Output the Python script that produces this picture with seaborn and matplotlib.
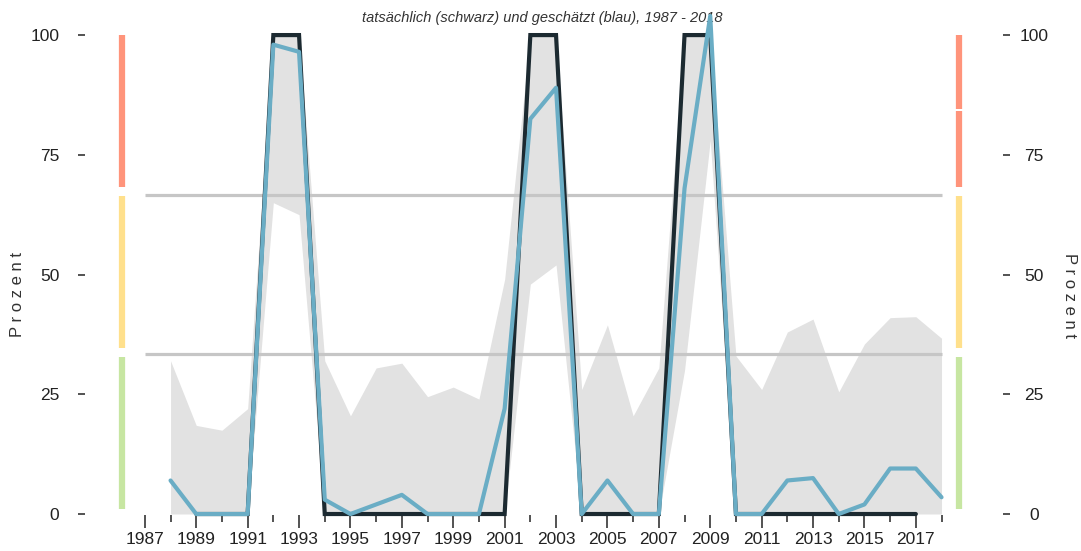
import matplotlib
matplotlib.use("Agg")
import matplotlib.pyplot as plt
import seaborn as sns
import pandas as pd
from matplotlib.ticker import FixedLocator

# ---------------- data ----------------
years = list(range(1988, 2019))
estimated = [7, 0, 0, 0, 98, 96.5, 3, 0, 2, 4, 0, 0, 0, 22, 82.5, 89,
             0, 7, 0, 0, 68, 104, 0, 0, 7, 7.5, 0, 2, 9.5, 9.5, 3.5]
band_low = [0, 0, 0, 0, 65, 62.5, 0, 0, 0, 0, 0, 0, 0, 0, 48, 52,
            0, 0, 0, 0, 30, 78, 0, 0, 0, 0, 0, 0, 0, 0, 0]
band_high = [32, 18.5, 17.5, 22, 100, 100, 32, 20.5, 30.5, 31.5, 24.5, 26.5, 24, 49, 100, 100,
             26, 39.5, 20.5, 30.5, 100, 100, 33, 26, 38, 40.7, 25.5, 35.5, 41, 41.2, 36.7]
actual_years = list(range(1989, 2018))
actual = [0, 0, 0, 100, 100, 0, 0, 0, 0, 0, 0, 0, 0, 100, 100,
          0, 0, 0, 0, 100, 100, 0, 0, 0, 0, 0, 0, 0, 0]
thresholds = [100 / 3, 200 / 3]
yticks = [0, 25, 50, 75, 100]
major_years = list(range(1987, 2018, 2))
minor_years = list(range(1988, 2019, 2))
zones_left = [(1, 32.8, "#c7e6a2"), (34.7, 66.4, "#ffe08c"), (68.3, 100, "#ff947b")]
zones_right = [(1, 32.8, "#c7e6a2"), (34.7, 66.4, "#ffe08c"), (68.3, 84.1, "#ff947b"), (84.5, 100, "#ff947b")]
title = "tatsächlich (schwarz) und geschätzt (blau), 1987 - 2018"

df_est = pd.DataFrame({"Jahr": years, "Prozent": estimated})
df_act = pd.DataFrame({"Jahr": actual_years, "Prozent": actual})

# ---------------- style ----------------
sns.set_theme(style="white")
narrow = ["Liberation Sans Narrow", "Liberation Sans", "DejaVu Sans"]
plt.rcParams["font.family"] = narrow

fig = plt.figure(figsize=(10.81, 5.51), dpi=100)
ax = fig.add_axes([0.0786, 0.0653, 0.8492, 0.8893])

ax.fill_between(years, band_low, band_high, color="#e2e2e2", lw=0, zorder=1)
ax.hlines(thresholds, 1987, 2018, color="#c6c6c6", lw=2.3, zorder=2)

sns.lineplot(data=df_act, x="Jahr", y="Prozent", ax=ax, color="#1c2a31", lw=3.0,
             zorder=3, clip_on=False, solid_joinstyle="miter")
sns.lineplot(data=df_est, x="Jahr", y="Prozent", ax=ax, color="#6aadc5", lw=3.0,
             zorder=4, clip_on=False)

for lo, hi, c in zones_left:
    ax.vlines(1986.1, lo, hi, color=c, lw=4.5, capstyle="butt", clip_on=False, zorder=2)
for lo, hi, c in zones_right:
    ax.vlines(2018.67, lo, hi, color=c, lw=4.5, capstyle="butt", clip_on=False, zorder=2)

ax.set_xlim(1984.67, 2020.39)
ax.set_ylim(-0.21, 102.1)
for s in ax.spines.values():
    s.set_visible(False)

ax.xaxis.set_major_locator(FixedLocator(major_years))
ax.xaxis.set_minor_locator(FixedLocator(minor_years))
ax.set_xticklabels([str(y) for y in major_years])
ax.tick_params(axis="x", which="major", bottom=True, length=9.4, width=1.3,
               color="#444444", pad=3, labelsize=12.5, labelcolor="#222222")
ax.tick_params(axis="x", which="minor", bottom=True, length=5, width=1.3, color="#444444")

ax.set_yticks(yticks)
ax.set_yticklabels([str(v) for v in yticks])
ax.tick_params(axis="y", left=True, length=5, width=1.3, color="#444444",
               pad=13.5, labelsize=12.5, labelcolor="#222222")

ax2 = ax.twinx()
ax2.set_ylim(ax.get_ylim())
for s in ax2.spines.values():
    s.set_visible(False)
ax2.set_yticks(yticks)
ax2.set_yticklabels([str(v) for v in yticks], ha="center")
ax2.tick_params(axis="y", right=True, length=5, width=1.3, color="#444444",
                pad=17.5, labelsize=12.5, labelcolor="#222222")

ax.set_xlabel("")
ax.set_ylabel("P r o z e n t", fontsize=12, color="#333333",
              family=["Liberation Sans", "DejaVu Sans"], ha="center", va="center")
ax.yaxis.set_label_coords(-0.074, 0.451)
ax2.set_ylabel("P r o z e n t", fontsize=12, color="#333333", rotation=270,
               family=["Liberation Sans", "DejaVu Sans"], ha="center", va="center")
ax2.yaxis.set_label_coords(1.072, 0.447)

ax.text(0.498, 1.014, title, transform=ax.transAxes, ha="center", va="center",
        fontsize=10.5, style="italic", color="#333333")

fig.savefig("out.png", dpi=100)
